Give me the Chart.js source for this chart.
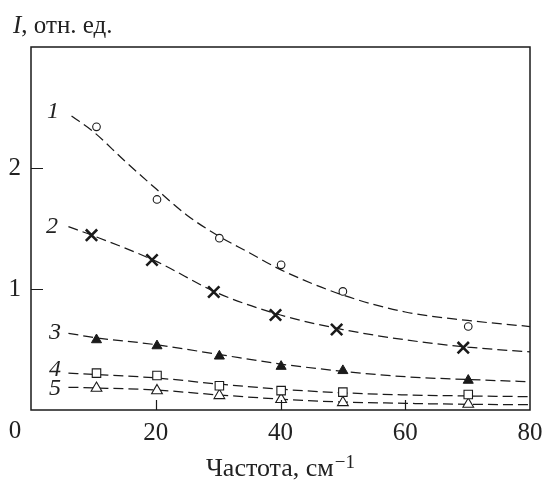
<!DOCTYPE html>
<html><head><meta charset="utf-8">
<script src="https://cdn.jsdelivr.net/npm/chart.js@4/dist/chart.umd.min.js"></script>
<style>html,body{margin:0;padding:0;background:#fff}#wrap{width:542px;height:480px;position:relative}</style>
</head><body><div id="wrap"><canvas id="c"></canvas></div>
<script>
// ---- data ----
const xTickValues = [0, 20, 40, 60, 80];
const yTickValues = [0, 1, 2, 3];
const seriesLabels = ['1', '2', '3', '4', '5'];
const yTitle = ['I', ', отн. ед.'];
const xTitle = ['Частота, см', '−1'];

const markX1 = [10.5, 20.2, 30.2, 40.1, 50.0, 70.1];
const markY1 = [2.34, 1.74, 1.42, 1.20, 0.98, 0.69];
const markX2 = [9.7, 19.4, 29.3, 39.2, 49.0, 69.3];
const markY2 = [1.445, 1.24, 0.975, 0.785, 0.665, 0.515];
const markX3 = [10.5, 20.2, 30.2, 40.1, 50.0, 70.1];
const markY3 = [0.58, 0.53, 0.445, 0.36, 0.325, 0.245];
const markX4 = [10.5, 20.2, 30.2, 40.1, 50.0, 70.1];
const markY4 = [0.305, 0.285, 0.20, 0.16, 0.148, 0.128];
const markX5 = [10.5, 20.2, 30.2, 40.1, 50.0, 70.1];
const markY5 = [0.18, 0.16, 0.12, 0.088, 0.062, 0.048];

const curveX1 = [6.5, 10, 15, 20, 25, 30, 35, 40, 50, 60, 70, 80];
const curveY1 = [2.43, 2.30, 2.06, 1.83, 1.61, 1.44, 1.30, 1.16, 0.95, 0.81, 0.74, 0.69];
const curveX = [6, 10, 20, 30, 40, 50, 60, 70, 80];
const curveY2 = [1.515, 1.44, 1.23, 0.965, 0.785, 0.665, 0.58, 0.52, 0.48];
const curveY3 = [0.634, 0.60, 0.54, 0.46, 0.38, 0.32, 0.275, 0.252, 0.234];
const curveY4 = [0.305, 0.295, 0.265, 0.215, 0.172, 0.142, 0.125, 0.116, 0.11];
const curveY5 = [0.188, 0.183, 0.165, 0.125, 0.09, 0.066, 0.055, 0.047, 0.044];

// ---- build ----
const zip = (xs, ys) => xs.map((x, i) => ({x, y: ys[i]}));
const INK = '#1a1a1a';
const SERIF = '"Liberation Serif", "DejaVu Serif", serif';

function curve(xs, ys) {
  return {data: zip(xs, ys), showLine: true, borderColor: INK, borderWidth: 1.25,
    borderDash: [10, 5], pointRadius: 0, pointHoverRadius: 0, fill: false,
    cubicInterpolationMode: 'monotone', order: 2};
}
function marks(xs, ys, style, radius, fill, bw) {
  return {data: zip(xs, ys), showLine: false, pointStyle: style, pointRadius: radius,
    pointHoverRadius: radius, pointBackgroundColor: fill, pointBorderColor: INK,
    pointBorderWidth: bw, order: 1};
}

const datasets = [
  marks(markX1, markY1, 'circle', 3.8, '#fff', 1.1),
  marks(markX2, markY2, 'crossRot', 8, INK, 2.6),
  marks(markX3, markY3, 'triangle', 5.8, INK, 1),
  marks(markX4, markY4, 'rect', 6, '#fff', 1.1),
  marks(markX5, markY5, 'triangle', 6.2, '#fff', 1.1),
  curve(curveX1, curveY1),
  curve(curveX, curveY2),
  curve(curveX, curveY3),
  curve(curveX, curveY4),
  curve(curveX, curveY5),
];

const labelPos = [[53, 112], [52, 227], [55, 333], [55, 370], [55, 389]];

const decor = {
  id: 'decor',
  afterDraw(chart) {
    const {ctx, chartArea: a, scales: {x, y}} = chart;
    ctx.save();
    ctx.strokeStyle = INK; ctx.lineWidth = 1.5;
    ctx.strokeRect(a.left, a.top, a.right - a.left, a.bottom - a.top);
    ctx.lineWidth = 1.2;
    ctx.beginPath();
    xTickValues.slice(1, -1).forEach(v => {
      const px = Math.round(x.getPixelForValue(v)) + 0.5;
      ctx.moveTo(px, a.bottom); ctx.lineTo(px, a.bottom - 10);
    });
    yTickValues.slice(1, -1).forEach(v => {
      const py = Math.round(y.getPixelForValue(v)) + 0.5;
      ctx.moveTo(a.left, py); ctx.lineTo(a.left + 12, py);
    });
    ctx.stroke();
    ctx.fillStyle = '#222';
    // origin label
    ctx.font = '25px ' + SERIF;
    ctx.textAlign = 'center'; ctx.textBaseline = 'middle';
    ctx.fillText('0', 15, 431);
    // series numbers
    ctx.font = 'italic 24px ' + SERIF;
    seriesLabels.forEach((s, i) => ctx.fillText(s, labelPos[i][0], labelPos[i][1]));
    // y title
    ctx.textAlign = 'left'; ctx.textBaseline = 'alphabetic';
    ctx.font = 'italic 25px ' + SERIF;
    ctx.fillText(yTitle[0], 13, 33);
    const w0 = ctx.measureText(yTitle[0]).width;
    ctx.font = '25px ' + SERIF;
    ctx.fillText(yTitle[1], 13 + w0, 33);
    // x title
    ctx.font = '26px ' + SERIF;
    const wm = ctx.measureText(xTitle[0]).width;
    ctx.font = '19px ' + SERIF;
    const ws = ctx.measureText(xTitle[1]).width;
    const start = (a.left + a.right) / 2 - (wm + ws + 1) / 2;
    ctx.font = '26px ' + SERIF;
    ctx.fillText(xTitle[0], start, 476);
    ctx.font = '19px ' + SERIF;
    ctx.fillText(xTitle[1], start + wm + 1, 468);
    ctx.restore();
  }
};

new Chart(document.getElementById('c'), {
  type: 'scatter',
  data: {datasets},
  options: {
    responsive: true, maintainAspectRatio: false, animation: false,
    events: [],
    layout: {padding: {top: 47, right: 0, left: 0, bottom: 0}},
    plugins: {legend: {display: false}, tooltip: {enabled: false}, title: {display: false}},
    scales: {
      x: {type: 'linear', min: 0, max: 80,
        afterBuildTicks: s => { s.ticks = xTickValues.map(v => ({value: v})); },
        afterFit: s => { s.height = 70; s.paddingRight = 12; },
        grid: {display: false, drawTicks: false}, border: {display: false},
        ticks: {padding: 8, color: '#222', font: {family: SERIF, size: 25},
          callback: v => v === 0 ? '' : String(v)}},
      y: {type: 'linear', min: 0, max: 3,
        afterBuildTicks: s => { s.ticks = yTickValues.map(v => ({value: v})); },
        afterFit: s => { s.width = 31; },
        grid: {display: false, drawTicks: false}, border: {display: false},
        ticks: {padding: 10, color: '#222', font: {family: SERIF, size: 25},
          callback: v => (v === 1 || v === 2) ? String(v) : ''}}
    }
  },
  plugins: [decor]
});
</script></body></html>
